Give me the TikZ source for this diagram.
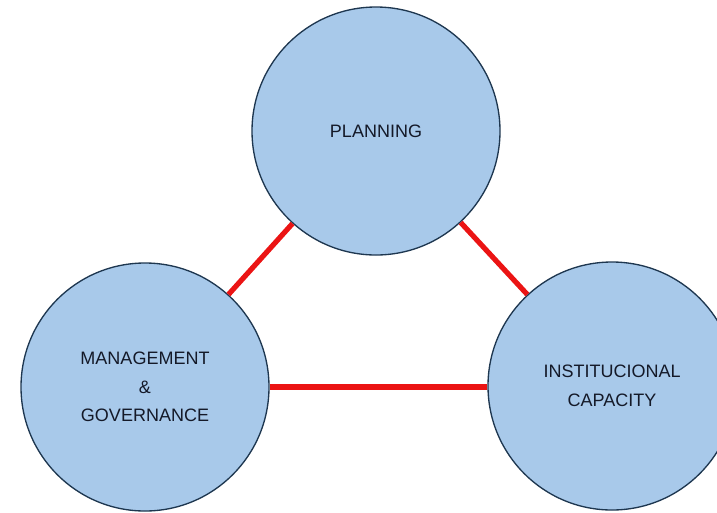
\documentclass[tikz,border=0pt]{standalone}
\usepackage{fontspec}
\setmainfont{Liberation Sans}
\definecolor{circfill}{RGB}{168,201,234}
\definecolor{circline}{RGB}{30,55,80}
\definecolor{linkred}{RGB}{235,20,20}
\definecolor{txt}{RGB}{20,25,40}
\begin{document}
\begin{tikzpicture}[x=0.75pt,y=-0.75pt,
  topic/.style={circle,draw=circline,line width=1pt,fill=circfill,minimum size=186pt,inner sep=0pt,
    align=center,text=txt,font=\fontsize{13.5}{21.5}\selectfont},
  link/.style={draw=linkred,line width=3.9pt}]
\useasboundingbox (0,0) rectangle (717,512);
\node[topic] (plan) at (376,131) {PLANNING};
\node[topic] (mg) at (145,387) {MANAGEMENT\\\&\\GOVERNANCE};
\node[topic] (ic) at (612,386) {INSTITUCIONAL\\CAPACITY};
\draw[link] (plan) -- (mg);
\draw[link] (plan) -- (ic);
\draw[link] (mg.east) -- (ic.west |- mg.east);
\end{tikzpicture}
\end{document}
